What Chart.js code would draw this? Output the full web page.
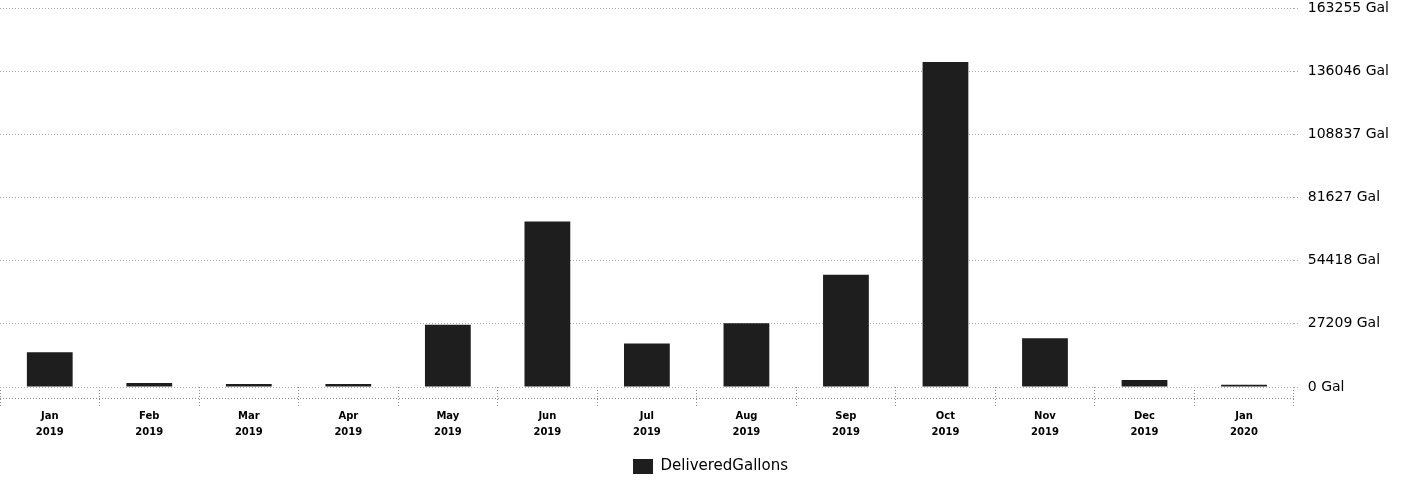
<!DOCTYPE html>
<html>
<head>
<meta charset="utf-8">
<script src="https://cdn.jsdelivr.net/npm/chart.js@4/dist/chart.umd.min.js"></script>
<style>
  html, body { margin: 0; padding: 0; background: #fff; }
  #wrap { width: 1413px; height: 480px; position: relative; }
</style>
</head>
<body>
<div id="wrap"><canvas id="chart"></canvas></div>
<script>
// Data
const months = [
    ['Jan', '2019'], ['Feb', '2019'], ['Mar', '2019'], ['Apr', '2019'],
    ['May', '2019'], ['Jun', '2019'], ['Jul', '2019'], ['Aug', '2019'],
    ['Sep', '2019'], ['Oct', '2019'], ['Nov', '2019'], ['Dec', '2019'],
    ['Jan', '2020']
];
const deliveredGallons = [15000, 1700, 1300, 1300, 26800, 71300, 18700, 27500, 48300, 140000, 21000, 3000, 1000];
const yTicks = [0, 27209, 54418, 81627, 108837, 136046, 163255];

// Dotted line under the x axis, like the original
const axisLinePlugin = {
    id: 'axisLine',
    afterDraw(chart) {
        const { ctx, chartArea } = chart;
        const y = chartArea.bottom + 11;
        ctx.save();
        ctx.strokeStyle = '#888';
        ctx.lineWidth = 1;
        ctx.setLineDash([1, 2]);
        ctx.beginPath();
        ctx.moveTo(chartArea.left, y + 0.5);
        ctx.lineTo(chartArea.right, y + 0.5);
        ctx.stroke();
        ctx.restore();
    }
};

// legend sits a bit right of the canvas centre and lower in the original
const legendShift = {
    id: 'legendShift',
    afterLayout(chart) {
        if (chart.legend) {
            chart.legend.left += 24;
            chart.legend.top += 4;
        }
    }
};

const initChart = () => {
    const ctx = document.getElementById('chart');
    new Chart(ctx, {
        type: 'bar',
        data: {
            labels: months,
            datasets: [{
                label: 'DeliveredGallons',
                data: deliveredGallons,
                backgroundColor: '#1e1e1e',
                borderWidth: 0,
                barPercentage: 0.46,
                categoryPercentage: 1.0
            }]
        },
        options: {
            responsive: true,
            maintainAspectRatio: false,
            animation: false,
            layout: { padding: { top: 8, left: 0, right: 16, bottom: 0 } },
            scales: {
                x: {
                    afterFit: (axis) => { axis.height += 8; },
                    grid: {
                        offset: true,
                        drawOnChartArea: false,
                        tickLength: 20,
                        color: '#888',
                        tickBorderDash: [1, 2]
                    },
                    border: { display: false },
                    ticks: {
                        color: '#000',
                        font: { family: 'DejaVu Sans', size: 10, weight: 'bold', lineHeight: 1.55 },
                        maxRotation: 0,
                        padding: 2
                    }
                },
                y: {
                    position: 'right',
                    min: 0,
                    max: 163255,
                    afterBuildTicks: (axis) => {
                        axis.ticks = yTicks.map(v => ({ value: v }));
                    },
                    afterFit: (axis) => {
                        axis.paddingTop = 0;
                        axis.paddingBottom = 0;
                    },
                    grid: {
                        color: '#aaa',
                        tickLength: 6,
                        tickBorderDash: [1, 2]
                    },
                    border: { display: false, dash: [1, 2] },
                    ticks: {
                        color: '#000',
                        padding: 8,
                        font: { family: 'DejaVu Sans', size: 14 },
                        callback: (v) => v + ' Gal'
                    }
                }
            },
            plugins: {
                legend: {
                    position: 'bottom',
                    labels: {
                        color: '#000',
                        boxWidth: 20,
                        boxHeight: 15,
                        padding: 5,
                        font: { family: 'DejaVu Sans', size: 15 }
                    }
                },
                tooltip: { enabled: false }
            }
        },
        plugins: [axisLinePlugin, legendShift]
    });
};

document.addEventListener('DOMContentLoaded', initChart);
</script>
</body>
</html>
